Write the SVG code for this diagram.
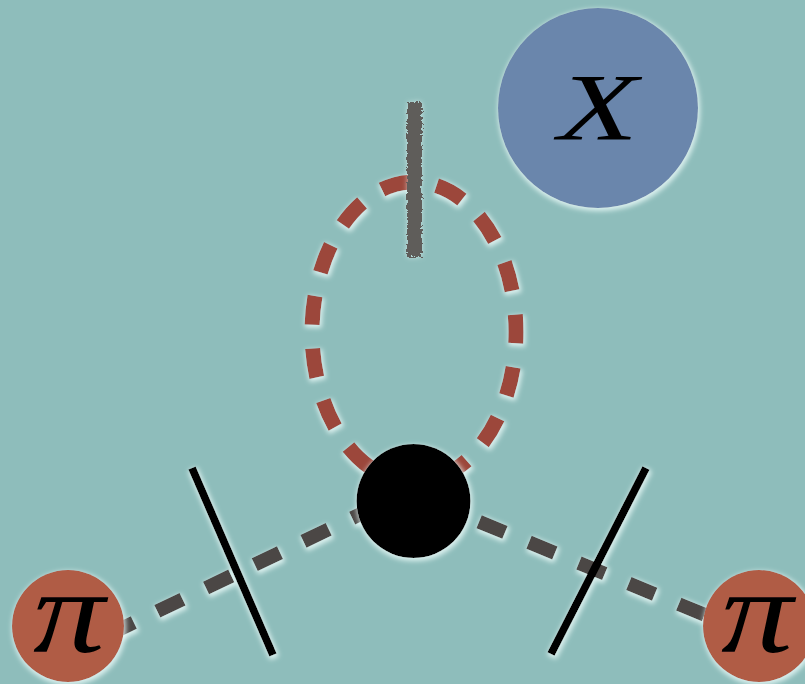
<svg xmlns="http://www.w3.org/2000/svg" width="805" height="684" viewBox="0 0 805 684">
  <defs>
    <!-- pale halo under every drawn mark -->
    <filter id="glow" x="-20%" y="-20%" width="140%" height="140%">
      <feMorphology in="SourceAlpha" operator="dilate" radius="1" result="m"/>
      <feGaussianBlur in="m" stdDeviation="2.5" result="b"/>
      <feOffset in="b" dx="1" dy="2" result="o"/>
      <feFlood flood-color="#eefdfb" flood-opacity="0.8"/>
      <feComposite in2="o" operator="in" result="halo"/>
      <feMerge><feMergeNode in="halo"/><feMergeNode in="SourceGraphic"/></feMerge>
    </filter>
    <!-- ragged, chalky stroke for the cut mark -->
    <filter id="rough" x="-100%" y="-10%" width="300%" height="120%">
      <feTurbulence type="fractalNoise" baseFrequency="0.35" numOctaves="2" seed="3" result="n"/>
      <feDisplacementMap in="SourceGraphic" in2="n" scale="6" xChannelSelector="R" yChannelSelector="G" result="d"/>
      <feGaussianBlur in="d" stdDeviation="2.5" result="db"/>
      <feFlood flood-color="#eefdfb" flood-opacity="0.6"/>
      <feComposite in2="db" operator="in" result="halo"/>
      <feMerge><feMergeNode in="halo"/><feMergeNode in="d"/></feMerge>
    </filter>
    <style>
      .prop { fill: none; stroke: #4b4644; stroke-width: 14; stroke-dasharray: 28 26; }
      .loop { fill: none; stroke: #9c463b; stroke-width: 15; stroke-dasharray: 29 24; stroke-dashoffset: 30; }
      .cut { stroke: #000; stroke-width: 8; stroke-linecap: butt; }
      .pion { fill: #b05c44; }
      .sym { font-family: "Liberation Serif", "DejaVu Serif", serif; font-style: italic; fill: #000; text-anchor: middle; }
    </style>
  </defs>

  <rect width="805" height="684" fill="#8ebdbb"/>

  <g id="connectors" filter="url(#glow)">
    <path class="prop" d="M68,654 L413,489" stroke-dashoffset="9"/>
    <path class="prop" d="M413,494.4 L759,637.3" stroke-dashoffset="36.5"/>
    <path class="loop" d="M414,182 A102,150 0 1,1 414,482 A102,150 0 1,1 414,182"/>
    <line class="cut" x1="192" y1="468" x2="273" y2="655"/>
    <line class="cut" x1="646" y1="468" x2="551" y2="654"/>
  </g>

  <g id="cut-mark" filter="url(#rough)">
    <rect x="407" y="102" width="15" height="155" fill="#5f5d5a"/>
  </g>

  <g id="vertex" filter="url(#glow)">
    <circle cx="413.5" cy="501" r="57" fill="#000"/>
  </g>

  <g id="node-x" filter="url(#glow)">
    <circle cx="598" cy="108" r="100" fill="#6b86ac"/>
    <text class="sym" x="598" y="140" font-size="96" textLength="80" lengthAdjust="spacingAndGlyphs">X</text>
  </g>

  <g id="pion-left" filter="url(#glow)">
    <circle class="pion" cx="68" cy="626" r="56"/>
    <text class="sym" x="69" y="652" font-size="118" textLength="72" lengthAdjust="spacingAndGlyphs">π</text>
  </g>

  <g id="pion-right" filter="url(#glow)">
    <circle class="pion" cx="759" cy="626" r="56"/>
    <text class="sym" x="757" y="652" font-size="118" textLength="72" lengthAdjust="spacingAndGlyphs">π</text>
  </g>
</svg>
